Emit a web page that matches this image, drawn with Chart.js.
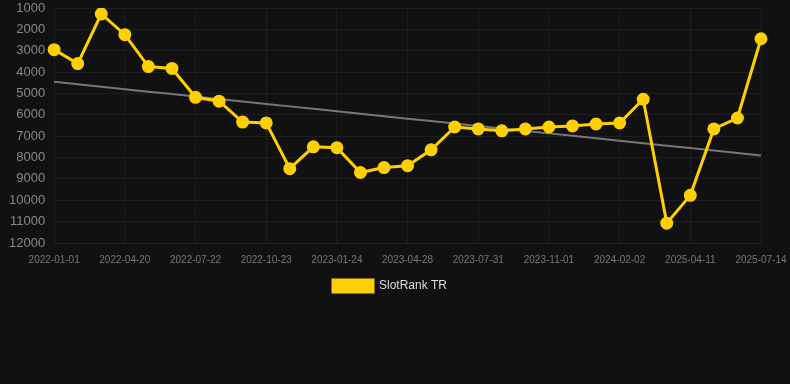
<!DOCTYPE html>
<html>
<head>
<meta charset="utf-8">
<script src="https://cdn.jsdelivr.net/npm/chart.js@4/dist/chart.umd.min.js"></script>
<style>
    html, body { margin: 0; padding: 0; background: #111111; }
    #wrap { width: 790px; height: 313px; position: relative; }
</style>
</head>
<body>
<div id="wrap"><canvas id="rankChart"></canvas></div>
<script>
// dates of each rank sample
const dates = [
    '2022-01-01', '2022-02-06', '2022-03-14', '2022-04-20', '2022-05-21', '2022-06-21',
    '2022-07-22', '2022-08-22', '2022-09-22', '2022-10-23', '2022-11-23', '2022-12-24',
    '2023-01-24', '2023-02-25', '2023-03-28', '2023-04-28', '2023-05-29', '2023-06-30',
    '2023-07-31', '2023-08-31', '2023-10-01', '2023-11-01', '2023-12-02', '2024-01-02',
    '2024-02-02', '2024-03-04', '2025-03-10', '2025-04-11', '2025-05-12', '2025-06-12',
    '2025-07-14'
];

// SlotRank TR positions (lower is better)
const ranks = [
    2950, 3600, 1280, 2250, 3740, 3830,
    5180, 5360, 6340, 6380, 8520, 7500,
    7540, 8700, 8470, 8380, 7640, 6570,
    6660, 6750, 6660, 6570, 6520, 6430,
    6380, 5270, 11070, 9770, 6660, 6150,
    2440
];

const yTicks = [1000, 2000, 3000, 4000, 5000, 6000, 7000, 8000, 9000, 10000, 11000, 12000];

// least squares trend over the rank series
function trendOf(values) {
    const n = values.length;
    let sx = 0, sy = 0, sxy = 0, sxx = 0;
    values.forEach((v, i) => { sx += i; sy += v; sxy += i * v; sxx += i * i; });
    const slope = (n * sxy - sx * sy) / (n * sxx - sx * sx);
    const icpt = (sy - slope * sx) / n;
    return values.map((v, i) => icpt + slope * i);
}
const trend = trendOf(ranks);

document.addEventListener("DOMContentLoaded", function () {
    const ctx = document.getElementById('rankChart').getContext('2d');
    new Chart(ctx, {
        type: 'line',
        data: {
            labels: dates,
            datasets: [{
                label: 'SlotRank TR',
                data: ranks,
                borderColor: '#FFD000',
                backgroundColor: '#FFD000',
                borderWidth: 3,
                pointRadius: 5,
                pointBackgroundColor: '#FFD000',
                pointBorderColor: '#FFD000',
                tension: 0,
                order: 1
            }, {
                label: 'trend',
                data: trend,
                borderColor: '#777777',
                borderWidth: 2,
                pointRadius: 0,
                order: 2
            }]
        },
        options: {
            responsive: true,
            maintainAspectRatio: false,
            animation: false,
            layout: { padding: { left: 0, right: 10, top: 4, bottom: 11 } },
            scales: {
                x: {
                    offset: false,
                    // keep the plot edge fixed, the last date label hangs past it
                    afterFit: function (axis) {
                        axis.paddingRight = 29;
                        axis.paddingLeft = 0;
                    },
                    grid: { color: '#1e1e1e', drawTicks: false },
                    border: { color: '#222222' },
                    ticks: {
                        color: '#777777',
                        font: { family: 'Arial, "Liberation Sans"', size: 10 },
                        maxRotation: 0,
                        autoSkip: true,
                        maxTicksLimit: 11,
                        padding: 11
                    }
                },
                y: {
                    reverse: true,
                    min: 1000,
                    max: 12000,
                    afterBuildTicks: function (axis) {
                        axis.ticks = yTicks.map(v => ({ value: v }));
                    },
                    afterFit: function (axis) {
                        axis.paddingTop = 0;
                        axis.paddingBottom = 0;
                    },
                    grid: { color: '#1e1e1e', drawTicks: false },
                    border: { display: false },
                    ticks: {
                        color: '#888888',
                        font: { family: 'Arial, "Liberation Sans"', size: 13 },
                        padding: 9,
                        callback: v => String(v)
                    }
                }
            },
            plugins: {
                legend: {
                    position: 'bottom',
                    labels: {
                        color: '#dddddd',
                        font: { family: 'Arial, "Liberation Sans"', size: 12 },
                        boxWidth: 40,
                        boxHeight: 12,
                        padding: 3,
                        filter: item => item.text !== 'trend'
                    }
                },
                tooltip: { enabled: false }
            }
        }
    });
});
</script>
</body>
</html>
